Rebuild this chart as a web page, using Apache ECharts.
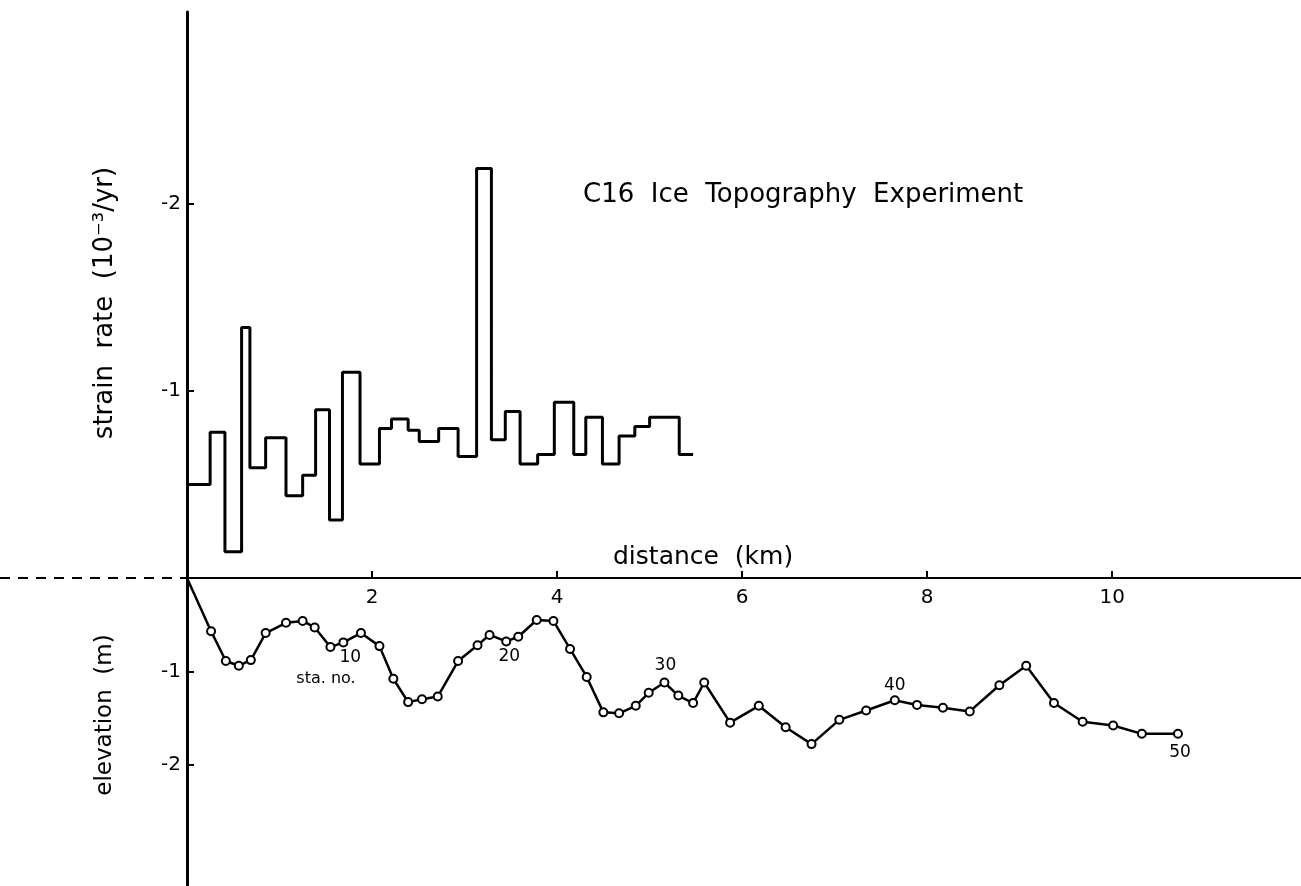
<!DOCTYPE html>
<html>
<head>
<meta charset="utf-8">
<script src="https://cdn.jsdelivr.net/npm/echarts@6/dist/echarts.min.js"></script>
<style>
  html, body { margin: 0; padding: 0; background: #fff; }
  #chart { width: 1301px; height: 886px; }
</style>
</head>
<body>
<div id="chart"></div>
<script>
// strain rate: one value per interval between step edges (km)
const stepEdgesKm = [0, 0.25, 0.41, 0.59, 0.68, 0.85, 1.07, 1.25, 1.39, 1.54, 1.68, 1.87, 2.08, 2.21, 2.39, 2.51, 2.72, 2.93, 3.13, 3.29, 3.44, 3.60, 3.79, 3.97, 4.18, 4.31, 4.49, 4.67, 4.84, 5.00, 5.16, 5.32, 5.47]
const strainRate = [-0.50, -0.78, -0.14, -1.34, -0.59, -0.75, -0.44, -0.55, -0.90, -0.31, -1.10, -0.61, -0.80, -0.85, -0.79, -0.73, -0.80, -0.65, -2.19, -0.74, -0.89, -0.61, -0.66, -0.94, -0.66, -0.86, -0.61, -0.76, -0.81, -0.86, -0.86, -0.66]

// elevation profile, stations 0..50
const stationKm = [0, 0.26, 0.42, 0.56, 0.69, 0.85, 1.07, 1.25, 1.38, 1.55, 1.69, 1.88, 2.08, 2.23, 2.39, 2.54, 2.71, 2.93, 3.14, 3.27, 3.45, 3.58, 3.78, 3.96, 4.14, 4.32, 4.50, 4.67, 4.85, 4.99, 5.16, 5.31, 5.47, 5.59, 5.87, 6.18, 6.47, 6.75, 7.05, 7.34, 7.65, 7.89, 8.17, 8.46, 8.78, 9.07, 9.37, 9.68, 10.01, 10.32, 10.71]
const elevation = [0, -0.57, -0.89, -0.94, -0.88, -0.59, -0.48, -0.46, -0.53, -0.74, -0.69, -0.59, -0.73, -1.08, -1.33, -1.30, -1.27, -0.89, -0.72, -0.61, -0.68, -0.63, -0.45, -0.46, -0.76, -1.06, -1.44, -1.45, -1.37, -1.23, -1.12, -1.26, -1.34, -1.12, -1.55, -1.37, -1.60, -1.78, -1.52, -1.42, -1.31, -1.36, -1.39, -1.43, -1.15, -0.94, -1.34, -1.54, -1.58, -1.67, -1.67]
const labelledStations = [10, 20, 30, 40, 50]

const distanceTicks = [2, 4, 6, 8, 10]
const strainTicks = [-2, -1]
const elevationTicks = [-1, -2]

const FONT = 'DejaVu Sans'

// where the station numbers sit relative to their point
const stationLabelStyle = {
  10: { position: 'bottom', distance: 2, offset: [7, 0] },
  20: { position: 'bottom', distance: 2, offset: [3, 0] },
  30: { position: 'top', distance: 3, offset: [1, 0] },
  40: { position: 'top', distance: 1, offset: [0, 0] },
  50: { position: 'bottom', distance: 5, offset: [2, 0] }
}

const stepData = stepEdgesKm.map((x, i) => [x, strainRate[Math.min(i, strainRate.length - 1)]])

const elevData = stationKm.map((x, i) => {
  const item = { value: [x, elevation[i]] }
  if (i === 0) item.symbol = 'none'
  if (labelledStations.includes(i)) {
    const st = stationLabelStyle[i]
    item.label = {
      show: true,
      position: st.position,
      distance: st.distance,
      offset: st.offset,
      formatter: String(i),
      color: '#000',
      fontFamily: FONT,
      fontSize: 17,
      lineHeight: 17
    }
  }
  return item
})

const chart = echarts.init(document.getElementById('chart'), null, { renderer: 'canvas' })

const axisLabelBase = { color: '#000', fontFamily: FONT, fontSize: 20 }

chart.setOption({
  animation: false,
  backgroundColor: '#fff',
  grid: [
    { left: 187, right: 0, top: 12, height: 566 },
    { left: 187, right: 0, top: 578, height: 307 }
  ],
  xAxis: [
    {
      type: 'value', gridIndex: 0, min: 0, max: 12.04,
      position: 'bottom',
      axisLine: { onZero: false, lineStyle: { color: '#000', width: 2 } },
      axisTick: { inside: true, length: 7, customValues: distanceTicks, lineStyle: { color: '#000', width: 2 } },
      axisLabel: Object.assign({ customValues: distanceTicks, margin: 10 }, axisLabelBase),
      splitLine: { show: false }
    },
    {
      type: 'value', gridIndex: 1, min: 0, max: 12.04, show: false
    }
  ],
  yAxis: [
    {
      type: 'value', gridIndex: 0, min: -3.027, max: 0, inverse: true,
      axisLine: { show: true, lineStyle: { color: '#000', width: 3 } },
      axisTick: { show: true, inside: true, length: 7, customValues: strainTicks, lineStyle: { color: '#000', width: 2 } },
      axisLabel: Object.assign({ customValues: strainTicks, margin: 6 }, axisLabelBase),
      splitLine: { show: false }
    },
    {
      type: 'value', gridIndex: 1, min: -3.29, max: 0,
      axisLine: { show: true, lineStyle: { color: '#000', width: 3 } },
      axisTick: { show: true, inside: true, length: 7, customValues: elevationTicks, lineStyle: { color: '#000', width: 2 } },
      axisLabel: Object.assign({ customValues: elevationTicks, margin: 6 }, axisLabelBase),
      splitLine: { show: false }
    }
  ],
  graphic: [
    {
      type: 'line',
      shape: { x1: 0, y1: 578, x2: 186, y2: 578 },
      style: { stroke: '#000', lineWidth: 2, lineDash: [10, 8] }
    },
    {
      type: 'text',
      x: 583, y: 195,
      style: { text: 'C16  Ice  Topography  Experiment', fontFamily: FONT, fontSize: 26, fill: '#000', align: 'left', verticalAlign: 'middle' }
    },
    {
      type: 'text',
      x: 613, y: 557,
      style: { text: 'distance  (km)', fontFamily: FONT, fontSize: 25, fill: '#000', align: 'left', verticalAlign: 'middle' }
    },
    {
      type: 'text',
      x: 105, y: 303, rotation: Math.PI / 2,
      style: { text: 'strain  rate  (10⁻³/yr)', fontFamily: FONT, fontSize: 26, fill: '#000', align: 'center', verticalAlign: 'middle' }
    },
    {
      type: 'text',
      x: 105, y: 715, rotation: Math.PI / 2,
      style: { text: 'elevation  (m)', fontFamily: FONT, fontSize: 23, fill: '#000', align: 'center', verticalAlign: 'middle' }
    },
    {
      type: 'text',
      x: 326, y: 679,
      style: { text: 'sta. no.', fontFamily: FONT, fontSize: 16, fill: '#000', align: 'center', verticalAlign: 'middle' }
    }
  ],
  series: [
    {
      name: 'strain rate',
      type: 'line',
      xAxisIndex: 0,
      yAxisIndex: 0,
      step: 'end',
      data: stepData,
      symbol: 'none',
      lineStyle: { color: '#000', width: 3 }
    },
    {
      name: 'elevation',
      type: 'line',
      xAxisIndex: 1,
      yAxisIndex: 1,
      data: elevData,
      symbol: 'circle',
      symbolSize: 8,
      itemStyle: { color: '#fff', borderColor: '#000', borderWidth: 2 },
      lineStyle: { color: '#000', width: 2.5 }
    }
  ]
})
</script>
</body>
</html>
